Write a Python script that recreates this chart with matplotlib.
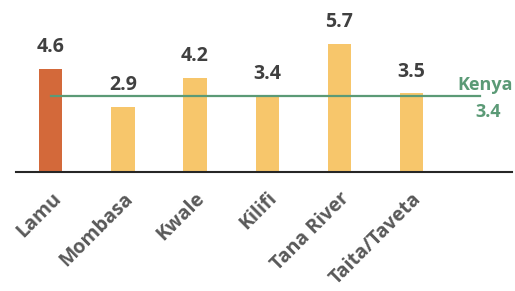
import matplotlib.pyplot as plt

counties = ["Lamu", "Mombasa", "Kwale", "Kilifi", "Tana River", "Taita/Taveta"]
values = [4.6, 2.9, 4.2, 3.4, 5.7, 3.5]
kenya = 3.4

plt.rcParams["font.family"] = ["Open Sans", "DejaVu Sans"]

fig = plt.figure(figsize=(5.15, 2.91), dpi=100)
ax = fig.add_axes([0.031, 0.409, 0.963, 0.541])

colors = ["#d3693a"] + ["#f7c66b"] * (len(values) - 1)
x = range(len(counties))
ax.bar(x, values, width=0.32, color=colors, zorder=2)

for i, v in enumerate(values):
    ax.text(i, v + 0.95, f"{v}", ha="center", va="center", fontsize=14,
            fontweight="bold", color="#404040")

ax.plot([0, 5.96], [kenya, kenya], color="#5b9a76", lw=1.6, zorder=3)
ax.text(6.42, kenya + 0.45, "Kenya", ha="right", va="center", fontsize=13,
        fontweight="bold", color="#5b9a76", clip_on=False)
ax.text(6.25, kenya - 0.75, f"{kenya}", ha="right", va="center", fontsize=13,
        fontweight="bold", color="#5b9a76", clip_on=False)

ax.set_xlim(-0.486, 6.40)
ax.set_ylim(0, 7)
ax.set_xticks(list(x))
ax.set_xticklabels(counties, rotation=45, ha="right", rotation_mode="anchor",
                   fontsize=14, fontweight="bold", color="#595959")
ax.tick_params(axis="x", length=0, pad=12)
ax.set_yticks([])
for s in ["top", "right", "left"]:
    ax.spines[s].set_visible(False)
ax.spines["bottom"].set_color("#262626")
ax.spines["bottom"].set_linewidth(1.5)

fig.savefig("out.png", dpi=100)
